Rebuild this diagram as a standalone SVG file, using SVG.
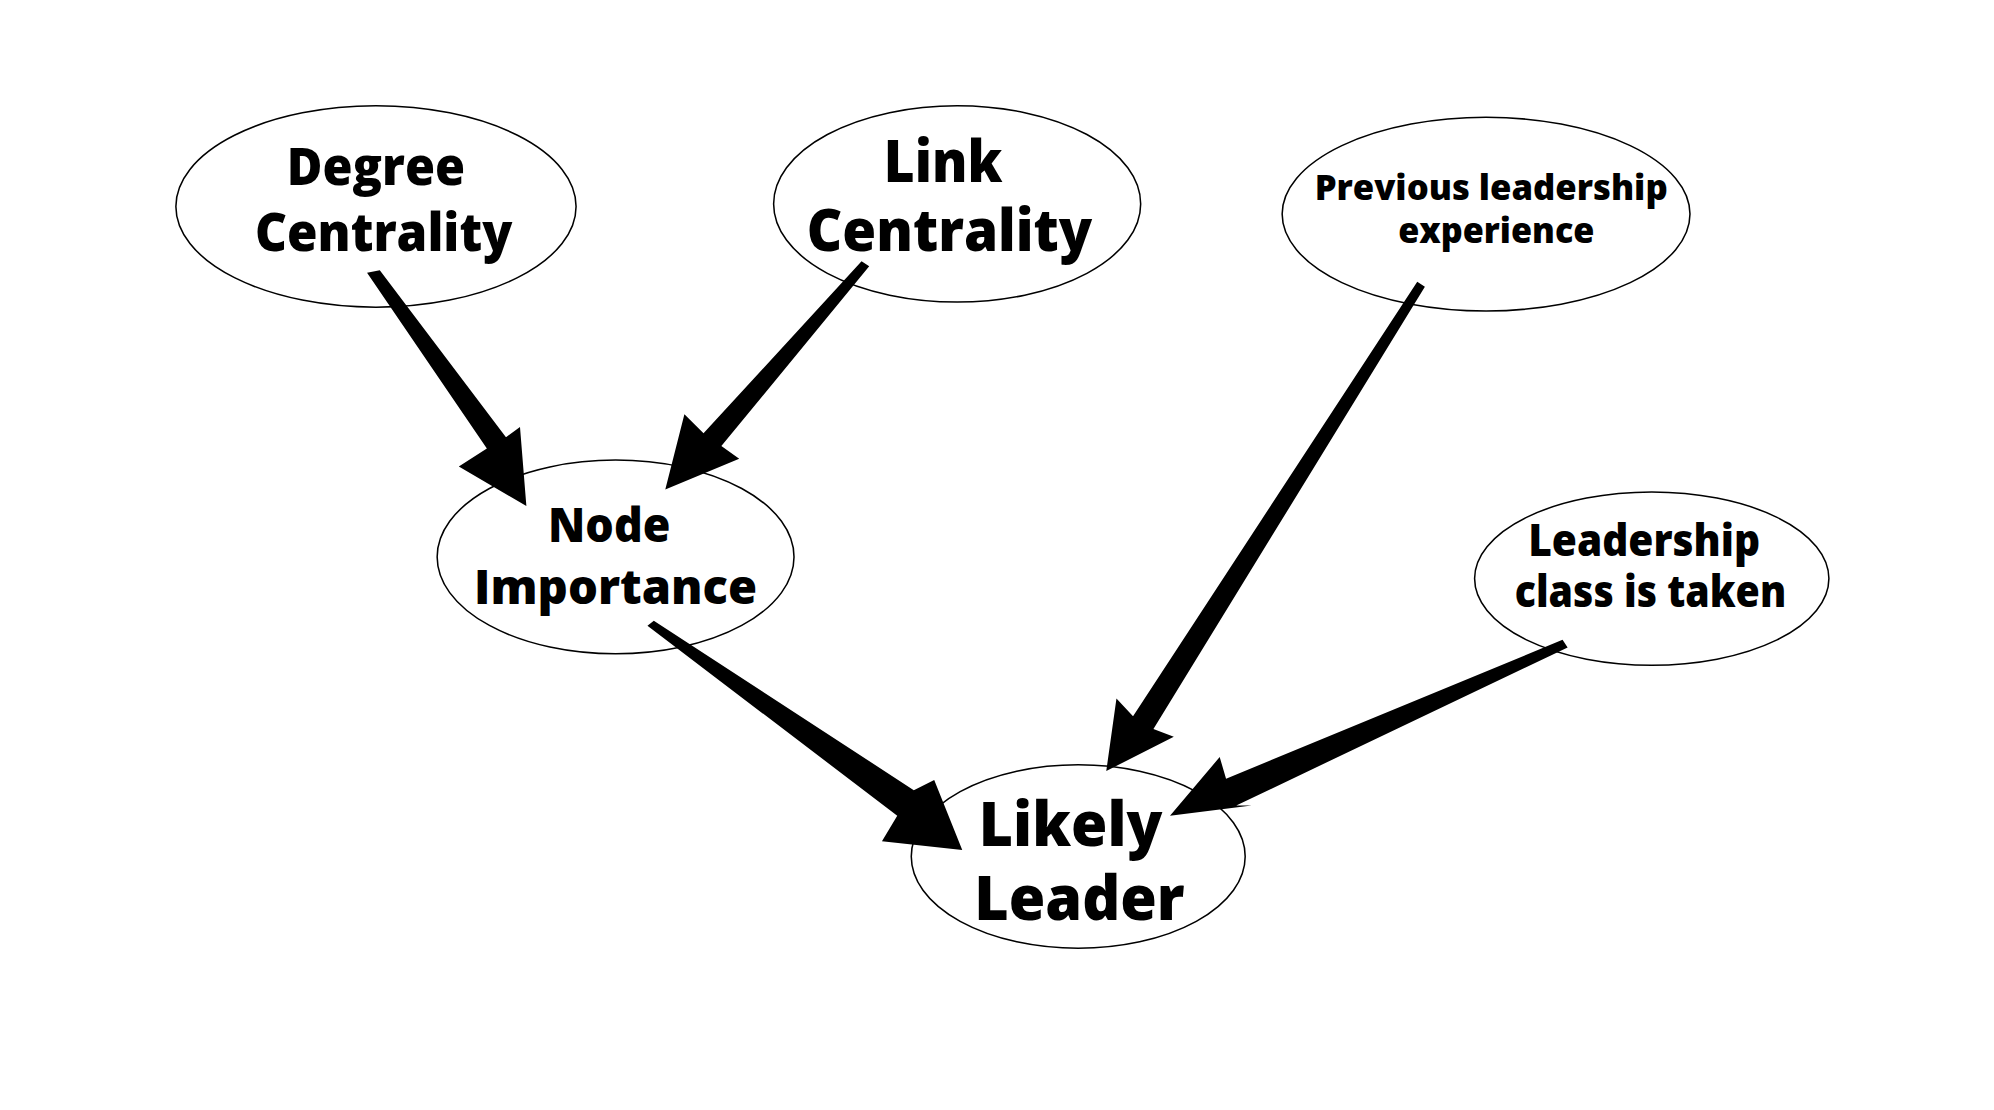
<svg xmlns="http://www.w3.org/2000/svg" width="1994" height="1110" viewBox="0 0 1994 1110">
<style>
.n{fill:#fff;stroke:#000;stroke-width:1.2}
text{font-family:"Open Sans","DejaVu Sans",sans-serif;font-weight:800;fill:#000;text-anchor:middle}
.a{fill:#000}
</style>
<rect width="1994" height="1110" fill="#fff"/>
<g transform="scale(1.2745)">
<g id="degree"><ellipse class="n" cx="295" cy="162" rx="157" ry="79"/>
<text x="295" y="145" font-size="40" textLength="140" lengthAdjust="spacingAndGlyphs">Degree</text>
<text x="301" y="197" font-size="42" textLength="202" lengthAdjust="spacingAndGlyphs">Centrality</text></g>
<g id="link"><ellipse class="n" cx="751" cy="160" rx="144" ry="77"/>
<text x="740" y="143" font-size="46" textLength="93" lengthAdjust="spacingAndGlyphs">Link</text>
<text x="745" y="197" font-size="46" textLength="224" lengthAdjust="spacingAndGlyphs">Centrality</text></g>
<g id="previous"><ellipse class="n" cx="1166" cy="168" rx="160" ry="76"/>
<text x="1170" y="157" font-size="28" textLength="277" lengthAdjust="spacingAndGlyphs">Previous leadership</text>
<text x="1174" y="191" font-size="28" textLength="154" lengthAdjust="spacingAndGlyphs">experience</text></g>
<g id="node"><ellipse class="n" cx="483" cy="437" rx="140" ry="76"/>
<text x="478" y="425" font-size="38" textLength="96" lengthAdjust="spacingAndGlyphs">Node</text>
<text x="483" y="474" font-size="38" textLength="222" lengthAdjust="spacingAndGlyphs">Importance</text></g>
<g id="class"><ellipse class="n" cx="1296" cy="454" rx="139" ry="68"/>
<text x="1290" y="436" font-size="34" textLength="182" lengthAdjust="spacingAndGlyphs">Leadership</text>
<text x="1295" y="476" font-size="34" textLength="213" lengthAdjust="spacingAndGlyphs">class is taken</text></g>
<g id="likely"><ellipse class="n" cx="846" cy="672" rx="131" ry="72"/>
<text x="840" y="664" font-size="48" textLength="144" lengthAdjust="spacingAndGlyphs">Likely</text>
<text x="847" y="722" font-size="48" textLength="165" lengthAdjust="spacingAndGlyphs">Leader</text></g>
<g id="connectors">
<polygon class="a" points="288,214 298,212 397,343 408,335 413,397 360,366 382,352"/>
<polygon class="a" points="676,205 682,209 566,350 580,360 522,384 537,325 552,340"/>
<polygon class="a" points="508,491 513,487 717,620 733,612 755,667 692,660 704,640"/>
<polygon class="a" points="1112,221 1118,225 905,572 921,578 868,605 876,548 889,562"/>
<polygon class="a" points="1226,502 1230,508 970,632 982,632 918,640 957,594 962,611"/>
</g>
</g>
</svg>
